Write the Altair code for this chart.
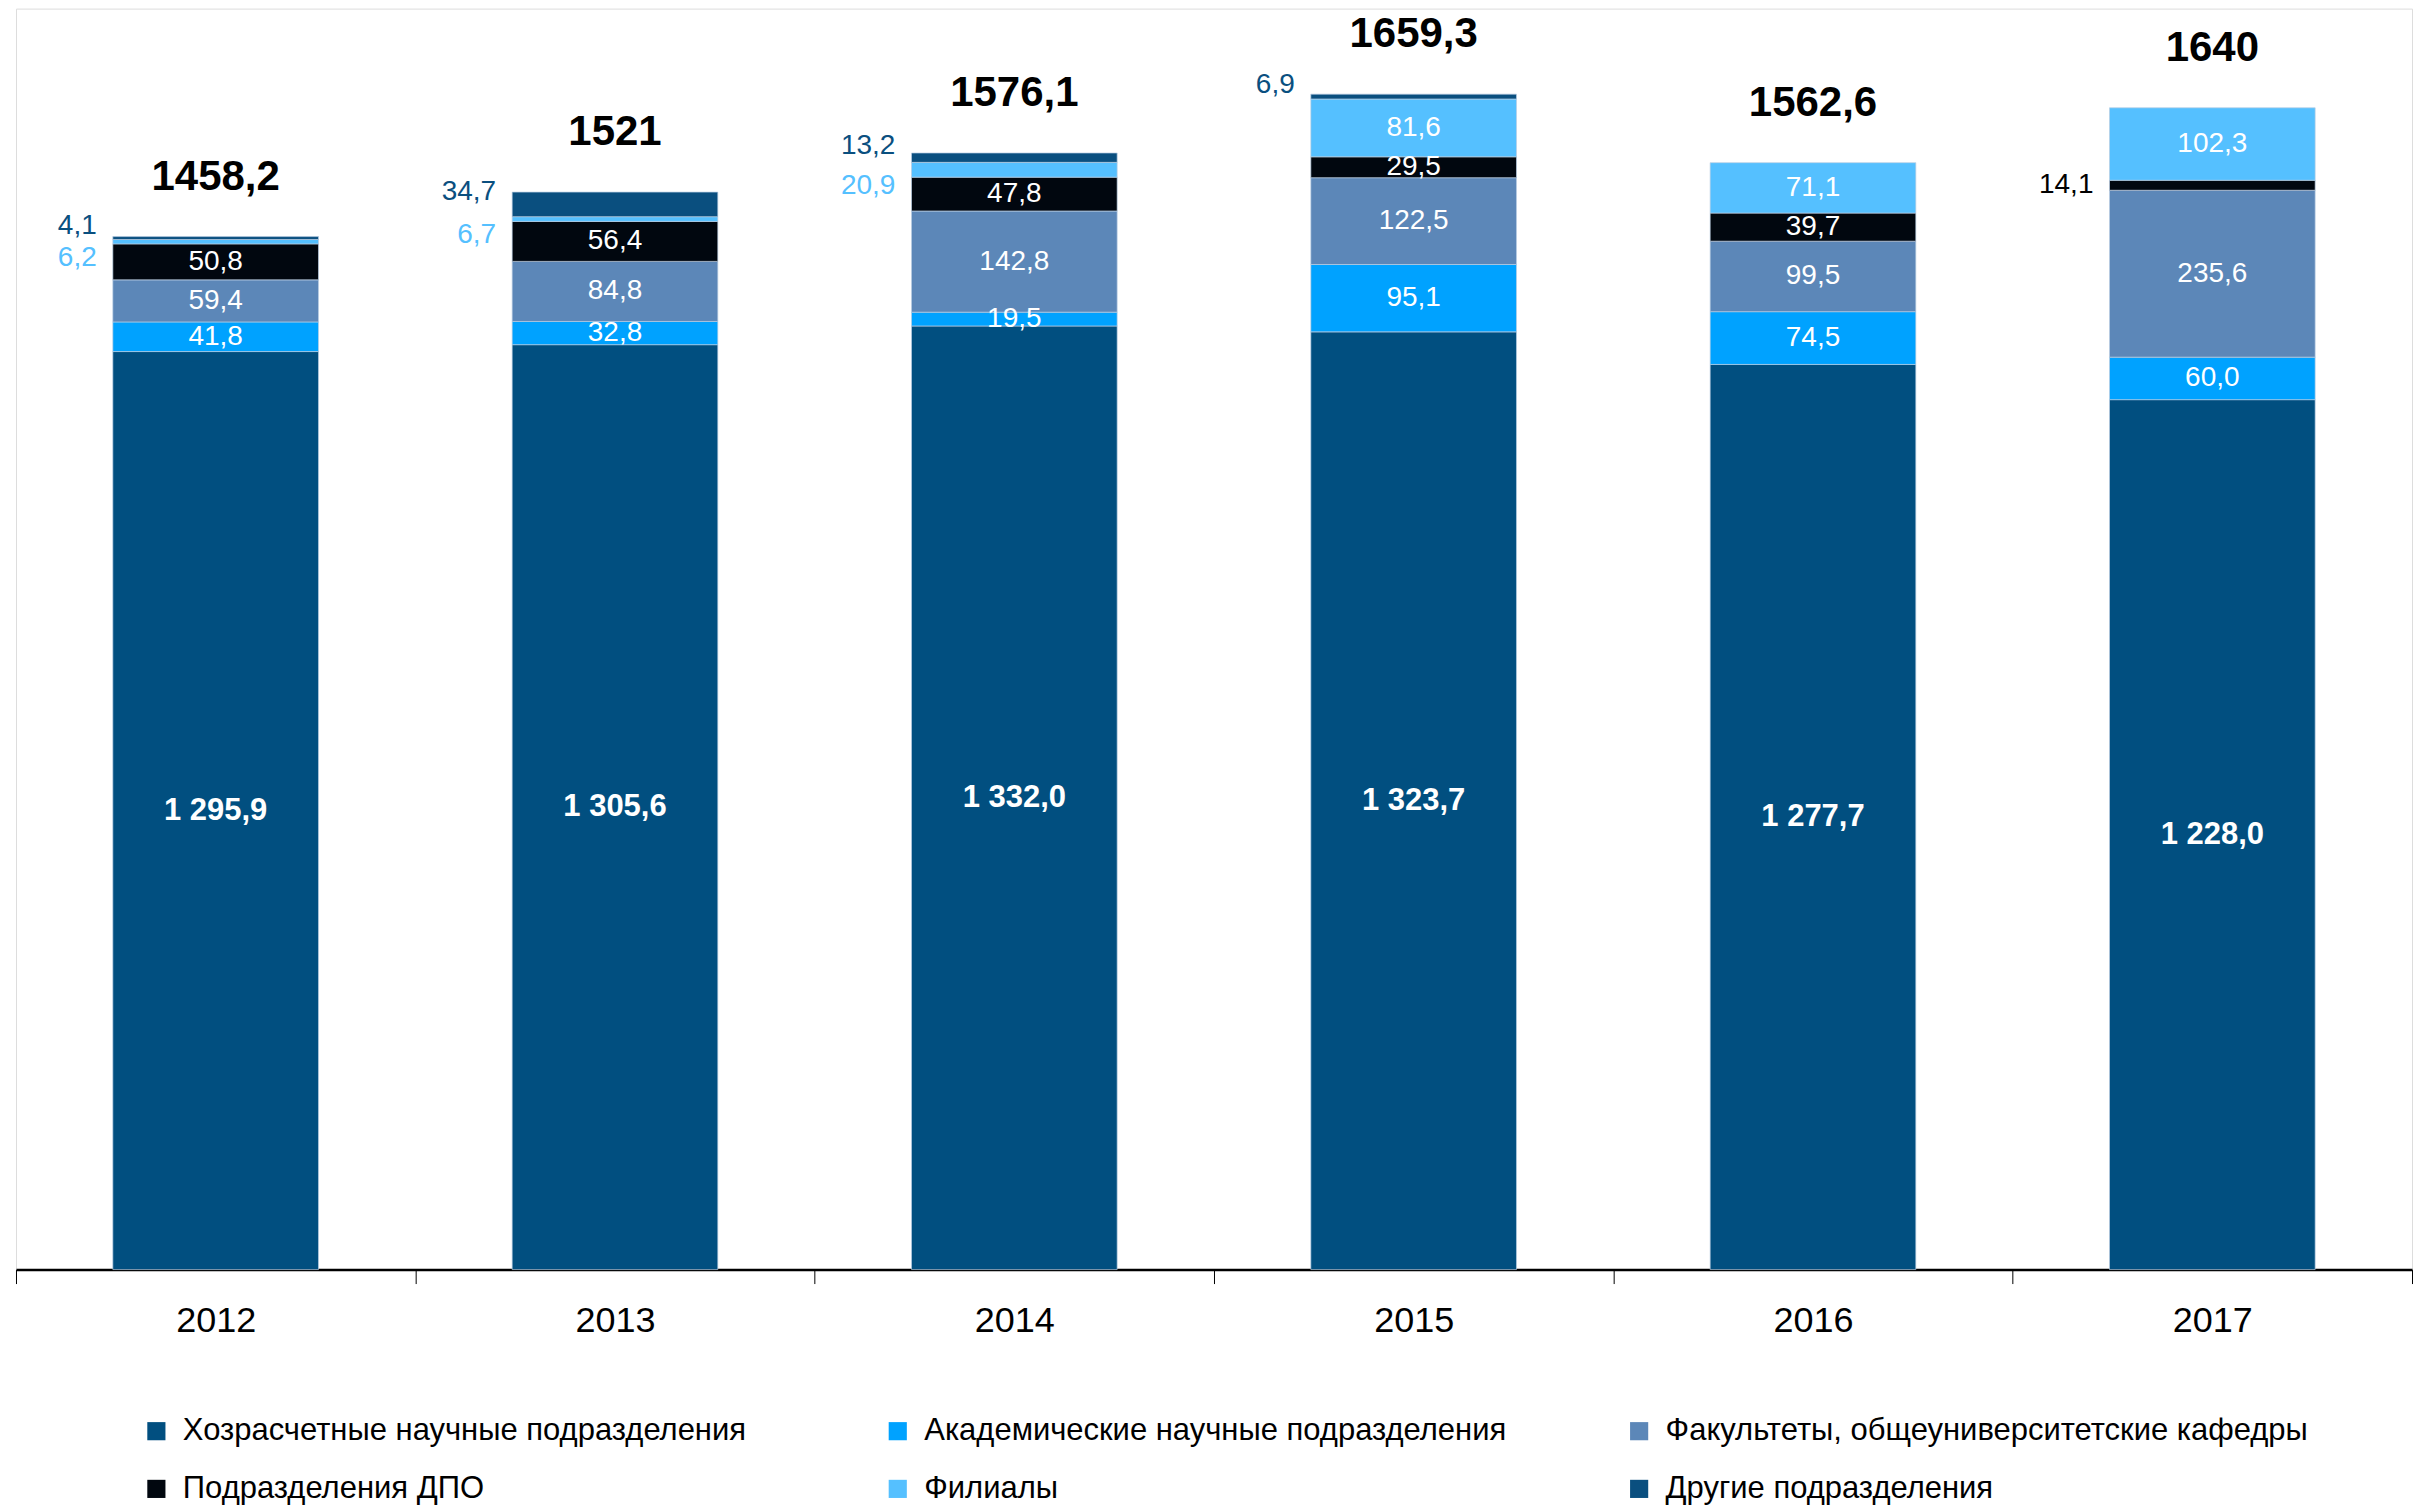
import altair as alt
import pandas as pd

years = ["2012", "2013", "2014", "2015", "2016", "2017"]
series = [
    "Хозрасчетные научные подразделения",
    "Академические научные подразделения",
    "Факультеты, общеуниверситетские кафедры",
    "Подразделения ДПО",
    "Филиалы",
    "Другие подразделения",
]
colors = ["#014f80", "#00a2ff", "#5c87b8", "#01070f", "#55c0ff", "#0a4f7f"]

hozr = [1295.9, 1305.6, 1332.0, 1323.7, 1277.7, 1228.0]
akad = [41.8, 32.8, 19.5, 95.1, 74.5, 60.0]
fak = [59.4, 84.8, 142.8, 122.5, 99.5, 235.6]
dpo = [50.8, 56.4, 47.8, 29.5, 39.7, 14.1]
fil = [6.2, 6.7, 20.9, 81.6, 71.1, 102.3]
drug = [4.1, 34.7, 13.2, 6.9, 0.0, 0.0]
totals = [1458.2, 1521.0, 1576.1, 1659.3, 1562.6, 1640.0]

FONT = "Liberation Sans, Arial, sans-serif"


def fmt(v):
    return f"{v:,.1f}".replace(",", " ").replace(".", ",")


def fmt_total(v):
    return str(int(v)) if v == int(v) else f"{v:.1f}".replace(".", ",")


value_lists = [hozr, akad, fak, dpo, fil, drug]
rows = []
for i, yr in enumerate(years):
    cum = 0.0
    for s, vals in zip(series, value_lists):
        v = vals[i]
        if v <= 0:
            continue
        if s == series[0]:
            place = "base"
        elif s == series[5]:
            place = "out_top"
        elif s == series[4] and v < 30:
            place = "out_bot"
        elif v < 15:
            place = "out_mid"
        else:
            place = "in"
        rows.append(dict(year=yr, series=s, start=cum, end=cum + v,
                         mid=cum + v / 2, label=fmt(v), place=place))
        cum += v
df = pd.DataFrame(rows)
tot = pd.DataFrame({"year": years, "total": totals,
                    "label": [fmt_total(t) for t in totals]})

# legend entries fill column by column (2 rows x 3 columns)
legend_order = [series[0], series[3], series[1], series[4], series[2], series[5]]
legend_colors = [colors[series.index(s)] for s in legend_order]

xscale = alt.Scale(domain=years, paddingInner=0, paddingOuter=0)
yscale = alt.Scale(domain=[0, 1780], nice=False, zero=True)

x = alt.X("year:N", scale=xscale, sort=years, title=None,
          axis=alt.Axis(labelAngle=0, tickBand="extent", domainColor="black",
                        domainWidth=2.5, tickColor="black", tickWidth=1,
                        tickSize=14, labelFont=FONT, labelFontSize=36,
                        labelColor="black", labelPadding=20, grid=False))
xs = alt.X("year:N", scale=xscale, sort=years)

bars = alt.Chart(df).mark_bar(
    width=alt.RelativeBandSize(0.515), stroke="#b9cde2", strokeWidth=1, strokeOpacity=0.7
).encode(
    x=x,
    y=alt.Y("start:Q", scale=yscale, axis=None),
    y2="end:Q",
    color=alt.Color("series:N", sort=legend_order,
                    scale=alt.Scale(domain=legend_order, range=legend_colors),
                    legend=alt.Legend(title=None, orient="none", legendX=125, legendY=1408,
                                      columns=3, gridAlign="all", columnPadding=57,
                                      rowPadding=26, symbolType="square", symbolSize=330,
                                      symbolStrokeWidth=0, labelFont=FONT,
                                      labelFontSize=31, labelColor="black",
                                      labelOffset=11, labelLimit=900)),
)

base_txt = alt.Chart(df[df.place == "base"]).mark_text(
    font=FONT, fontWeight="bold", fontSize=31, color="white", baseline="middle"
).encode(x=xs, y=alt.Y("mid:Q", scale=yscale), text="label:N")

in_txt = alt.Chart(df[df.place == "in"]).mark_text(
    font=FONT, fontSize=28, color="white", baseline="middle"
).encode(x=xs, y=alt.Y("mid:Q", scale=yscale), text="label:N")

out_top = alt.Chart(df[df.place == "out_top"]).mark_text(
    font=FONT, fontSize=28, color=colors[5], baseline="middle", align="right", dx=-119, dy=-12
).encode(x=xs, y=alt.Y("mid:Q", scale=yscale), text="label:N")

out_bot = alt.Chart(df[df.place == "out_bot"]).mark_text(
    font=FONT, fontSize=28, color=colors[4], baseline="middle", align="right", dx=-119, dy=16
).encode(x=xs, y=alt.Y("mid:Q", scale=yscale), text="label:N")

out_mid = alt.Chart(df[df.place == "out_mid"]).mark_text(
    font=FONT, fontSize=28, color="black", baseline="middle", align="right", dx=-119
).encode(x=xs, y=alt.Y("mid:Q", scale=yscale), text="label:N")

tot_txt = alt.Chart(tot).mark_text(
    font=FONT, fontWeight="bold", fontSize=42, color="black", baseline="middle", dy=-60
).encode(x=xs, y=alt.Y("total:Q", scale=yscale), text="label:N")

chart = alt.layer(bars, base_txt, in_txt, out_top, out_bot, out_mid, tot_txt).properties(
    width=2398, height=1262,
    padding={"left": 7, "top": 0, "right": 0, "bottom": 0},
).configure_view(stroke=None).configure(background="white")

chart.save("out.html", embed_options={"renderer": "svg", "actions": False})
